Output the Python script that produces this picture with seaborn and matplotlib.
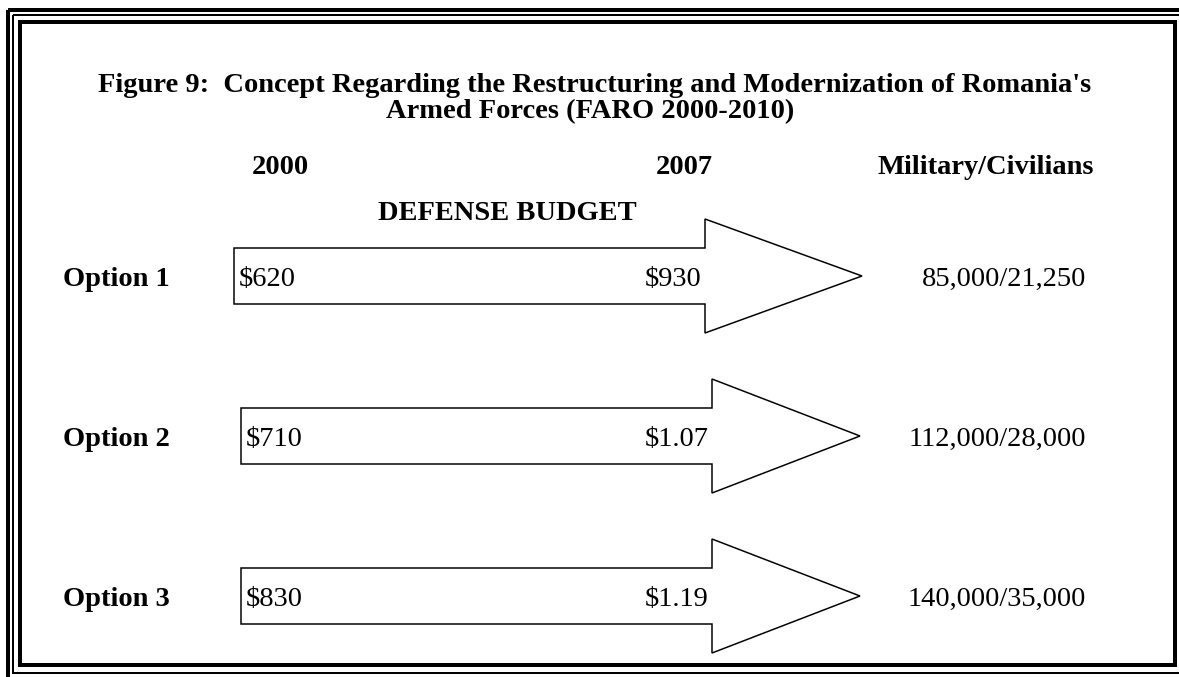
import numpy as np
import seaborn as sns
import matplotlib.pyplot as plt
from matplotlib.patches import Polygon, Rectangle

sns.set_style("white")
plt.rcParams['font.family'] = ['Liberation Serif', 'DejaVu Serif']
plt.rcParams['text.color'] = 'black'

# data
options = ["Option 1", "Option 2", "Option 3"]
budget_2000 = ["$620", "$710", "$830"]
budget_2007 = ["$930", "$1.07", "$1.19"]
personnel = ["85,000/21,250", "112,000/28,000", "140,000/35,000"]
headers = ["2000", "2007", "Military/Civilians"]

W, H = 1179, 677
fig = plt.figure(figsize=(W / 100, H / 100), dpi=100)
ax = fig.add_axes([0, 0, 1, 1])
ax.set_xlim(0, W)
ax.set_ylim(H, 0)
ax.axis("off")

px = 0.72  # one pixel in points

# triple frame
ax.add_patch(Rectangle((8, 9.5), 1300, 1000, fill=False, lw=4 * px, color="black"))
ax.add_patch(Rectangle((13, 15), 1300, 658, fill=False, lw=2 * px, color="black"))
ax.add_patch(Rectangle((19.5, 22), 1155, 643, fill=False, lw=4 * px, color="black"))

fs = 20.5
ax.text(595, 86, "Figure 9:  Concept Regarding the Restructuring and Modernization of Romania's",
        ha="center", va="center", fontsize=fs, fontweight="bold")
ax.text(590, 112, "Armed Forces (FARO 2000-2010)",
        ha="center", va="center", fontsize=fs, fontweight="bold")

header_x = [280, 684, 986]
for x, h in zip(header_x, headers):
    ax.text(x, 168, h, ha="center", va="center", fontsize=fs, fontweight="bold")
ax.text(507, 213, "DEFENSE BUDGET", ha="center", va="center", fontsize=fs, fontweight="bold")

row_y = [276, 436, 596]
left_x = [234, 241, 241]
neck_x = [705, 712, 712]
tip_x = [862, 860, 860]
half_body, half_head = 28, 57

for i, y in enumerate(row_y):
    x0, xn, xt = left_x[i], neck_x[i], tip_x[i]
    pts = [(x0, y - half_body), (xn, y - half_body), (xn, y - half_head), (xt, y),
           (xn, y + half_head), (xn, y + half_body), (x0, y + half_body)]
    ax.add_patch(Polygon(pts, closed=True, fill=False, lw=1.5 * px, edgecolor="black"))
    ax.text(63, y + 3, options[i], ha="left", va="center", fontsize=fs, fontweight="bold")
    ax.text(x0 + 5, y + 3, budget_2000[i], ha="left", va="center", fontsize=fs)
    ax.text(xn - 3, y + 3, budget_2007[i], ha="right", va="center", fontsize=fs)
    ax.text(1086, y + 3, personnel[i], ha="right", va="center", fontsize=fs)

fig.savefig("out.png", dpi=100)
